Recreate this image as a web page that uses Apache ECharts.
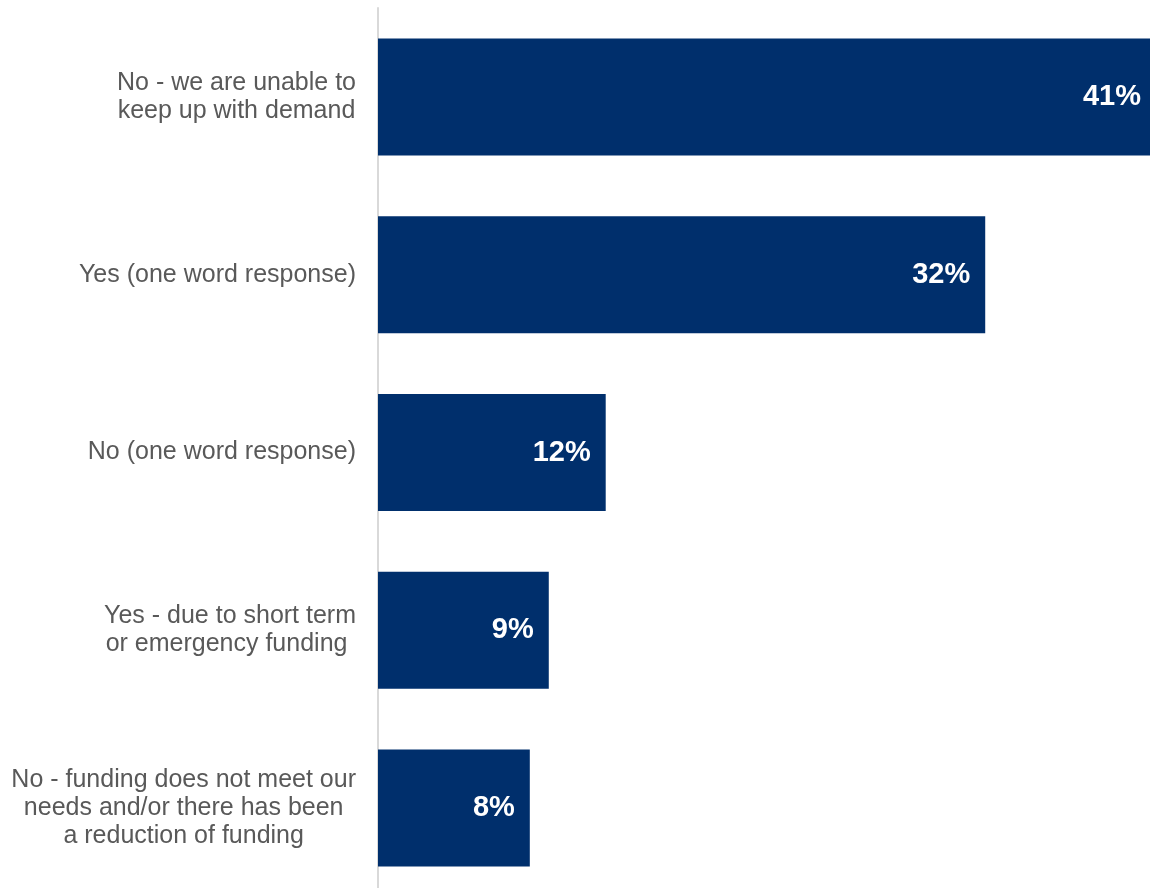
<!DOCTYPE html>
<html>
<head>
<meta charset="utf-8">
<style>
  html, body { margin: 0; padding: 0; background: #ffffff; }
  #chart { width: 1150px; height: 888px; }
</style>
<script src="https://cdn.jsdelivr.net/npm/echarts@6/dist/echarts.min.js"></script>
</head>
<body>
<div id="chart"></div>
<script>
// Survey responses, top to bottom
const categories = [
  'No - we are unable to\nkeep up with demand',
  'Yes (one word response)',
  'No (one word response)',
  'Yes - due to short term\nor emergency funding ',
  'No - funding does not meet our\nneeds and/or there has been\na reduction of funding'
];
const shares = [41, 32, 12, 9, 8];

const chart = echarts.init(document.getElementById('chart'), null, { renderer: 'canvas' });

chart.setOption({
  backgroundColor: '#ffffff',
  animation: false,
  grid: {
    left: 378, width: 778, top: 8, height: 889,
    containLabel: false,
    outerBoundsMode: 'none'
  },
  xAxis: {
    type: 'value',
    min: 0,
    max: 41,
    show: false
  },
  yAxis: {
    type: 'category',
    data: categories,
    inverse: true,
    axisLine: { show: true, lineStyle: { color: '#d9d9d9', width: 2 } },
    axisTick: { show: false },
    splitLine: { show: false },
    axisLabel: {
      margin: 22,
      align: 'right',
      formatter: function (v) {
        return v.split('\n').map(function (line) { return '{c|' + line + '}'; }).join('\n');
      },
      rich: {
        c: {
          align: 'center',
          fontFamily: 'Liberation Sans, Arial, sans-serif',
          fontSize: 25,
          lineHeight: 28,
          color: '#595959'
        }
      }
    }
  },
  series: [{
    type: 'bar',
    data: shares,
    barWidth: 117,
    itemStyle: { color: '#002F6C' },
    label: {
      show: true,
      position: 'insideRight',
      distance: 15,
      formatter: '{c}%',
      color: '#ffffff',
      fontFamily: 'Liberation Sans, Arial, sans-serif',
      fontWeight: 'bold',
      fontSize: 29
    }
  }]
});
</script>
</body>
</html>
